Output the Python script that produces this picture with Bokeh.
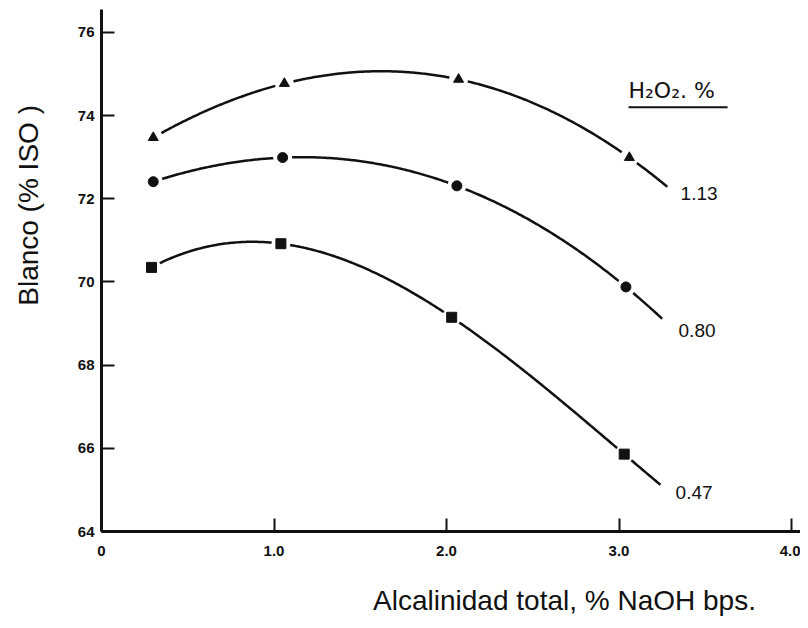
import numpy as np
from bokeh.plotting import figure
from bokeh.models import Range1d, FixedTicker, Label
from bokeh.embed import file_html
from bokeh.resources import INLINE

# ---- data ----
x_tri = [0.30, 1.06, 2.07, 3.06]
y_tri = [73.47, 74.77, 74.87, 72.99]
x_cir = [0.30, 1.05, 2.06, 3.04]
y_cir = [72.41, 72.99, 72.31, 69.88]
x_sq = [0.29, 1.04, 2.03, 3.03]
y_sq = [70.35, 70.92, 69.15, 65.86]
series_labels = ["1.13", "0.80", "0.47"]
legend_title = "H\u2082O\u2082. %"
x_ticks = [0, 1, 2, 3, 4]
x_tick_labels = ["0", "1.0", "2.0", "3.0", "4.0"]
y_ticks = [64, 66, 68, 70, 72, 74, 76]
y_tick_labels = ["64", "66", "68", "70", "72", "74", "76"]
x_title = "Alcalinidad total, % NaOH bps."
y_title = "Blanco (% ISO )"

# ---- layout / style ----
curve_end = [3.28, 3.25, 3.24]
label_pos = [(3.357, 72.13), (3.345, 68.83), (3.328, 64.94)]
FONT = "Liberation Sans"
INK = "#111111"

p = figure(width=800, height=620, output_backend="svg", toolbar_location=None,
           x_range=Range1d(0, 4.052), y_range=Range1d(64, 76.55),
           min_border_left=101, min_border_right=0, min_border_top=9,
           min_border_bottom=89)
p.outline_line_color = None
p.xgrid.visible = False
p.ygrid.visible = False
p.background_fill_color = "white"
p.border_fill_color = "white"

for ax in (p.xaxis[0], p.yaxis[0]):
    ax.axis_line_width = 3
    ax.axis_line_color = INK
    ax.major_tick_line_width = 2
    ax.major_tick_line_color = INK
    ax.major_tick_in = 13
    ax.major_tick_out = 0
    ax.minor_tick_line_color = None
    ax.major_label_text_font = FONT
    ax.major_label_text_font_style = "bold"
    ax.major_label_text_font_size = "15px"
    ax.major_label_text_color = INK

p.xaxis.ticker = FixedTicker(ticks=x_ticks)
p.xaxis.major_label_overrides = {t: l for t, l in zip(x_ticks, x_tick_labels)}
p.xaxis.major_label_standoff = 14
p.yaxis.ticker = FixedTicker(ticks=y_ticks)
p.yaxis.major_label_overrides = {t: l for t, l in zip(y_ticks, y_tick_labels)}
p.yaxis.major_label_standoff = 7

# axis titles as labels living in the side panels (so not clipped to the frame)
p.add_layout(Label(x=2.684, y=62.34, text=x_title, text_font=FONT,
                   text_font_size="28px", text_color=INK,
                   text_align="center", text_baseline="middle"), "below")
p.add_layout(Label(x=-0.423, y=71.84, text=y_title, text_font=FONT,
                   text_font_size="28px", text_color=INK, angle=np.pi / 2,
                   text_align="center", text_baseline="middle"), "left")

series = [(x_tri, y_tri, "triangle", 10), (x_cir, y_cir, "circle", 10),
          (x_sq, y_sq, "square", 10)]

for (xs, ys, mk, sz), xend in zip(series, curve_end):
    coef = np.polyfit(xs, ys, 3)
    xc = np.linspace(xs[0], xend, 300)
    p.line(xc, np.polyval(coef, xc), line_width=2.5, line_color=INK)
    # white halo to open a gap in the curve around each marker
    p.scatter(xs, ys, marker="circle", size=19, fill_color="white",
              line_color=None)
    p.scatter(xs, ys, marker=mk, size=sz, fill_color=INK, line_color=INK)

for txt, (lx, ly) in zip(series_labels, label_pos):
    p.add_layout(Label(x=lx, y=ly, text=txt, text_font=FONT,
                       text_font_size="19px", text_color=INK,
                       text_align="left", text_baseline="middle"))

# legend title with underline
p.add_layout(Label(x=3.055, y=74.61, text=legend_title, text_font="DejaVu Sans",
                   text_font_size="22px", text_color=INK,
                   text_align="left", text_baseline="middle"))
p.segment(x0=[3.055], y0=[74.20], x1=[3.629], y1=[74.20], line_width=2,
          line_color=INK)

open("out.html", "w").write(file_html(p, INLINE))
